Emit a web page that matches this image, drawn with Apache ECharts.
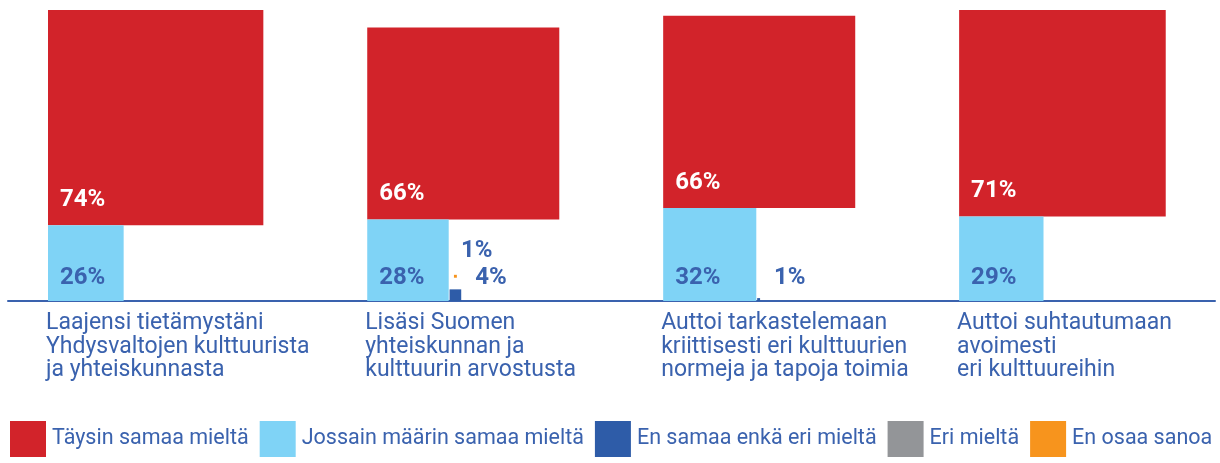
<!DOCTYPE html>
<html>
<head>
<meta charset="utf-8">
<script src="https://cdn.jsdelivr.net/npm/echarts@6/dist/echarts.min.js"></script>
<style>
  html, body { margin: 0; padding: 0; background: #fff; }
  #chart { width: 1220px; height: 463px; }
</style>
</head>
<body>
<div id="chart"></div>
<script>
// kysymykset (kategoriat)
const categories = [
  "Laajensi tietämystäni\nYhdysvaltojen kulttuurista\nja yhteiskunnasta",
  "Lisäsi Suomen\nyhteiskunnan ja\nkulttuurin arvostusta",
  "Auttoi tarkastelemaan\nkriittisesti eri kulttuurien\nnormeja ja tapoja toimia",
  "Auttoi suhtautumaan\navoimesti\neri kulttuureihin"
];
const seriesNames = [
  "Täysin samaa mieltä",
  "Jossain määrin samaa mieltä",
  "En samaa enkä eri mieltä",
  "Eri mieltä",
  "En osaa sanoa"
];
// arvot prosentteina
const taysin = [74, 66, 66, 71];
const jossain = [26, 28, 32, 29];
const enSamaa = [0, 4, 1, 0];
const eri = [0, 0, 0, 0];
const enOsaa = [0, 1, 0, 0];
const values = [taysin, jossain, enSamaa, eri, enOsaa];

// ulkoasu
const colors = ["#d2232a", "#7fd3f6", "#2e5ca8", "#939598", "#f7941d"];
const textBlue = "#3a62ae";
const FONT = "Roboto, 'Noto Sans', sans-serif";
const SCALE = 2.91;      // px / prosenttiyksikkö, sama x- ja y-suunnassa
const GRID_LEFT = 8;
const GRID_RIGHT = 5;
const BASE_Y = 301;      // perusviivan y
const FIRST = 40 / SCALE; // ensimmäisen ryhmän alku
const GAP = 35.7;        // ryhmien väli prosenttiyksikköinä

// ryhmien alkukohdat lasketaan leveimmästä neliöstä
const starts = [];
categories.forEach((c, i) => {
  if (i === 0) { starts.push(FIRST); return; }
  const prevW = Math.max(taysin[i - 1], jossain[i - 1] + enSamaa[i - 1] + eri[i - 1] + 1);
  starts.push(starts[i - 1] + prevW + GAP);
});

// neliön paikka: vasen x, alareuna y, sivu
function square(s, g) {
  const v = values[s][g];
  if (s === 0) return { x: starts[g], y: jossain[g], size: v };
  if (s === 1) return { x: starts[g], y: 0, size: v };
  if (s === 2) return { x: starts[g] + jossain[g] + 0.3, y: 0, size: v };
  if (s === 3) return { x: starts[g] + jossain[g] + enSamaa[g] + 1, y: 0, size: v };
  // en osaa sanoa: pinotaan pienen neliön yläpuolelle
  const base = starts[g] + jossain[g] + 0.3 + enSamaa[g] / 2;
  return { x: base - v / 2, y: enSamaa[g] + 4, size: v };
}

function renderItem(params, api) {
  const s = params.seriesIndex;
  const g = api.value(0);
  const v = api.value(1);
  const children = [];
  if (v > 0) {
    const sq = square(s, g);
    const tl = api.coord([sq.x, sq.y + sq.size]);
    const br = api.coord([sq.x + sq.size, sq.y]);
    children.push({
      type: "rect",
      shape: { x: tl[0], y: tl[1], width: br[0] - tl[0], height: br[1] - tl[1] },
      style: { fill: colors[s] }
    });
    const fs = 24;
    let lx, base;
    if (s === 0) { lx = tl[0] + 12; base = br[1] - 17; }
    else if (s === 1) { lx = tl[0] + 12; base = br[1] - 15; }
    else if (s === 4) { lx = tl[0] + 7; base = tl[1] - 16; }
    else { lx = br[0] + 14; base = BASE_Y - 15; }
    children.push({
      type: "text",
      style: {
        x: lx, y: base - 0.34 * fs,
        text: v + "%",
        fill: s === 0 ? "#fff" : textBlue,
        font: "bold " + fs + "px " + FONT,
        verticalAlign: "middle"
      }
    });
  }
  if (s === 1) {
    const p = api.coord([starts[g], 0]);
    children.push({
      type: "text",
      style: {
        x: p[0] - 2, y: BASE_Y + 11,
        text: categories[g],
        fill: textBlue,
        font: "23px " + FONT,
        lineHeight: 23.3,
        verticalAlign: "top"
      }
    });
  }
  return { type: "group", children: children };
}

const chartDom = document.getElementById("chart");
const myChart = echarts.init(chartDom);
const plotW = 1220 - GRID_LEFT - GRID_RIGHT;

const option = {
  animation: false,
  grid: { left: GRID_LEFT, right: GRID_RIGHT, top: 0, height: BASE_Y },
  legend: {
    left: 10, top: 421, padding: 0, width: 1210,
    itemWidth: 36, itemHeight: 36, itemGap: 11,
    icon: "rect",
    selectedMode: false,
    textStyle: { color: textBlue, fontSize: 21.5, fontFamily: FONT, padding: [0, 0, 0, 1] },
    data: seriesNames
  },
  xAxis: {
    type: "value", min: 0, max: plotW / SCALE,
    axisLine: { show: true, onZero: false, lineStyle: { color: textBlue, width: 2 } },
    axisTick: { show: false }, axisLabel: { show: false }, splitLine: { show: false }
  },
  yAxis: {
    type: "value", min: 0, max: BASE_Y / SCALE,
    axisLine: { show: false }, axisTick: { show: false },
    axisLabel: { show: false }, splitLine: { show: false }
  },
  series: seriesNames.map((name, s) => ({
    name: name,
    type: "custom",
    renderItem: renderItem,
    itemStyle: { color: colors[s] },
    data: categories.map((c, g) => [g, values[s][g]]),
    z: s === 1 ? 3 : 2
  }))
};
myChart.setOption(option);
</script>
</body>
</html>
